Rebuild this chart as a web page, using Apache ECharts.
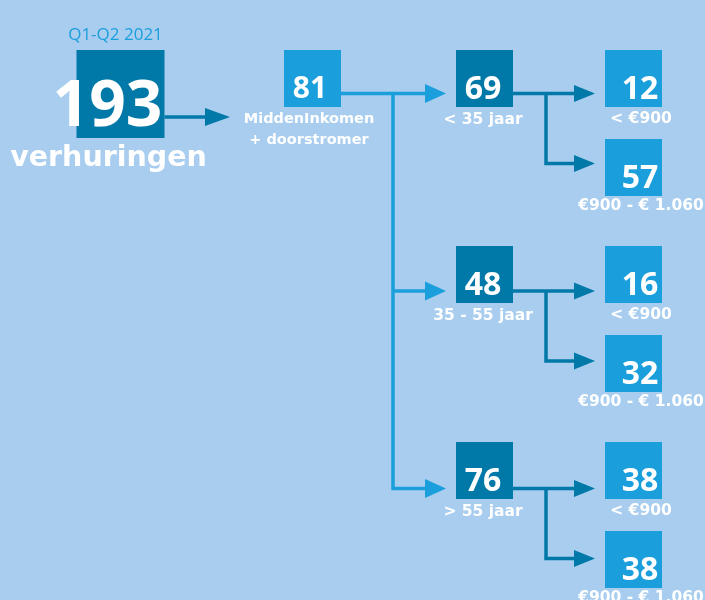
<!DOCTYPE html>
<html><head><meta charset="utf-8">
<script src="https://cdn.jsdelivr.net/npm/echarts@6/dist/echarts.min.js"></script>
<style>html,body{margin:0;padding:0;background:#a8cdef}#c{width:705px;height:600px}</style>
</head><body><div id="c"></div>
<script>
// ---- data ----
const period = 'Q1-Q2 2021';
const totalValue = 193;
const totalLabel = 'verhuringen';
const segmentValue = 81;
const segmentLabel = ['MiddenInkomen', '+ doorstromer'];
const ageGroups = ['< 35 jaar', '35 - 55 jaar', '> 55 jaar'];
const ageValues = [69, 48, 76];
const rentBands = ['< €900', '€900 - € 1.060'];
const rentValues = [[12, 57], [16, 32], [38, 38]];

// ---- layout & style (axis units) ----
const L = {
  totalX: 120.5, totalY: 94, big: 88,
  segX: 312.5, ageX: 484.5, rentX: 633.5, small: 57,
  topY: 78.5, groupStep: 196, subStep: 89,
  busX: 393, branchX: 546, ageTipX: 446, rentTipX: 595
};
const C = { bg: '#a8cdef', dark: '#0079a8', light: '#1a9fdc', white: '#ffffff' };
const NUM_FONT = '"Open Sans", Lato, sans-serif';
const LBL_FONT = '"DejaVu Sans", sans-serif';

// ---- build nodes ----
const nodes = [];
nodes.push({ cx: L.totalX, cy: L.totalY, size: L.big, color: C.dark, value: totalValue,
  num: { dx: -13, dy: 13.5, fs: 64 },
  labels: [
    { text: period, dx: -5, dy: -59, fs: 17, fam: NUM_FONT, w: 'normal', color: C.light },
    { text: totalLabel, dx: -12, dy: 64.5, fs: 28.5, fam: LBL_FONT, w: 'bold', color: C.white }
  ] });
nodes.push({ cx: L.segX, cy: L.topY, size: L.small, color: C.light, value: segmentValue,
  num: { dx: -2.5, dy: 10.5, fs: 30 },
  labels: segmentLabel.map((t, k) => ({ text: t, dx: -3.5, dy: 41 + 21 * k, fs: 14.5, fam: LBL_FONT, w: 'bold', color: C.white })) });
const ageArrowY = [];
ageValues.forEach((v, i) => {
  const cy = L.topY + L.groupStep * i;
  ageArrowY.push(cy + 15 + i * 1.5);
  nodes.push({ cx: L.ageX, cy, size: L.small, color: C.dark, value: v,
    num: { dx: -1.5, dy: 11, fs: 32 },
    labels: [{ text: ageGroups[i], dx: -1.5, dy: 41.5, fs: 15.5, fam: LBL_FONT, w: 'bold', color: C.white }] });
  rentValues[i].forEach((rv, j) => {
    nodes.push({ cx: L.rentX, cy: cy + L.subStep * j, size: L.small, color: C.light, value: rv,
      num: { dx: 6.5, dy: 11, fs: 32 },
      labels: [{ text: rentBands[j], dx: 7.5, dy: 40.5 - 2 * j, fs: 15.5, fam: LBL_FONT, w: 'bold', color: C.white }] });
  });
});

// ---- build edges ----
const edges = [];
edges.push({ pts: [[L.totalX + L.big / 2, 117], [230, 117]], color: C.dark, hl: 25, hw: 9 });
edges.push({ pts: [[L.segX + L.small / 2, ageArrowY[0]], [L.ageTipX, ageArrowY[0]]], color: C.light, hl: 21, hw: 9.5 });
edges.push({ pts: [[L.busX, ageArrowY[0]], [L.busX, ageArrowY[2]], [L.ageTipX, ageArrowY[2]]], color: C.light, hl: 21, hw: 9.5 });
edges.push({ pts: [[L.busX, ageArrowY[1]], [L.ageTipX, ageArrowY[1]]], color: C.light, hl: 21, hw: 9.5 });
ageArrowY.forEach(ay => {
  edges.push({ pts: [[L.ageX + L.small / 2, ay], [L.rentTipX, ay]], color: C.dark, hl: 21, hw: 8.5 });
  edges.push({ pts: [[L.branchX, ay], [L.branchX, ay + 70], [L.rentTipX, ay + 70]], color: C.dark, hl: 21, hw: 8.5 });
});

function renderNode(params, api) {
  const n = nodes[params.dataIndex];
  const c = api.coord([n.cx, n.cy]);
  const s = api.size([n.size, n.size]);
  const children = [{
    type: 'rect', shape: { x: c[0] - s[0] / 2, y: c[1] - s[1] / 2, width: s[0], height: s[1] },
    style: { fill: n.color }
  }];
  children.push({ type: 'text', z2: 10, style: {
    text: String(n.value), x: c[0] + n.num.dx, y: c[1] + n.num.dy,
    fill: C.white, fontSize: n.num.fs, fontWeight: 'bold', fontFamily: NUM_FONT,
    align: 'center', verticalAlign: 'middle' } });
  n.labels.forEach(lb => children.push({ type: 'text', z2: 10, style: {
    text: lb.text, x: c[0] + lb.dx, y: c[1] + lb.dy, fill: lb.color,
    fontSize: lb.fs, fontWeight: lb.w, fontFamily: lb.fam, align: 'center', verticalAlign: 'middle' } }));
  return { type: 'group', children };
}

function renderEdge(params, api) {
  const e = edges[params.dataIndex];
  const p = e.pts.map(q => api.coord(q));
  const a = p[p.length - 2], b = p[p.length - 1];
  const dx = b[0] - a[0], dy = b[1] - a[1], len = Math.hypot(dx, dy);
  const ux = dx / len, uy = dy / len;
  const base = [b[0] - ux * e.hl, b[1] - uy * e.hl];
  const line = p.slice(0, -1).concat([base]);
  return { type: 'group', children: [
    { type: 'polyline', shape: { points: line }, style: { stroke: e.color, lineWidth: 3.5, fill: null } },
    { type: 'polygon', shape: { points: [b, [base[0] - uy * e.hw, base[1] + ux * e.hw], [base[0] + uy * e.hw, base[1] - ux * e.hw]] },
      style: { fill: e.color } }
  ] };
}

const chart = echarts.init(document.getElementById('c'), null, { renderer: 'canvas' });
chart.setOption({
  backgroundColor: C.bg,
  animation: false,
  grid: { left: 0, right: 0, top: 0, bottom: 0 },
  xAxis: { type: 'value', min: 0, max: 705, show: false },
  yAxis: { type: 'value', min: 0, max: 600, inverse: true, show: false },
  series: [
    { type: 'custom', renderItem: renderEdge, clip: false, z: 1,
      data: edges.map(e => e.pts[0]) },
    { type: 'custom', renderItem: renderNode, clip: false, z: 2,
      data: nodes.map(n => [n.cx, n.cy]) }
  ]
});
</script>
</body></html>
